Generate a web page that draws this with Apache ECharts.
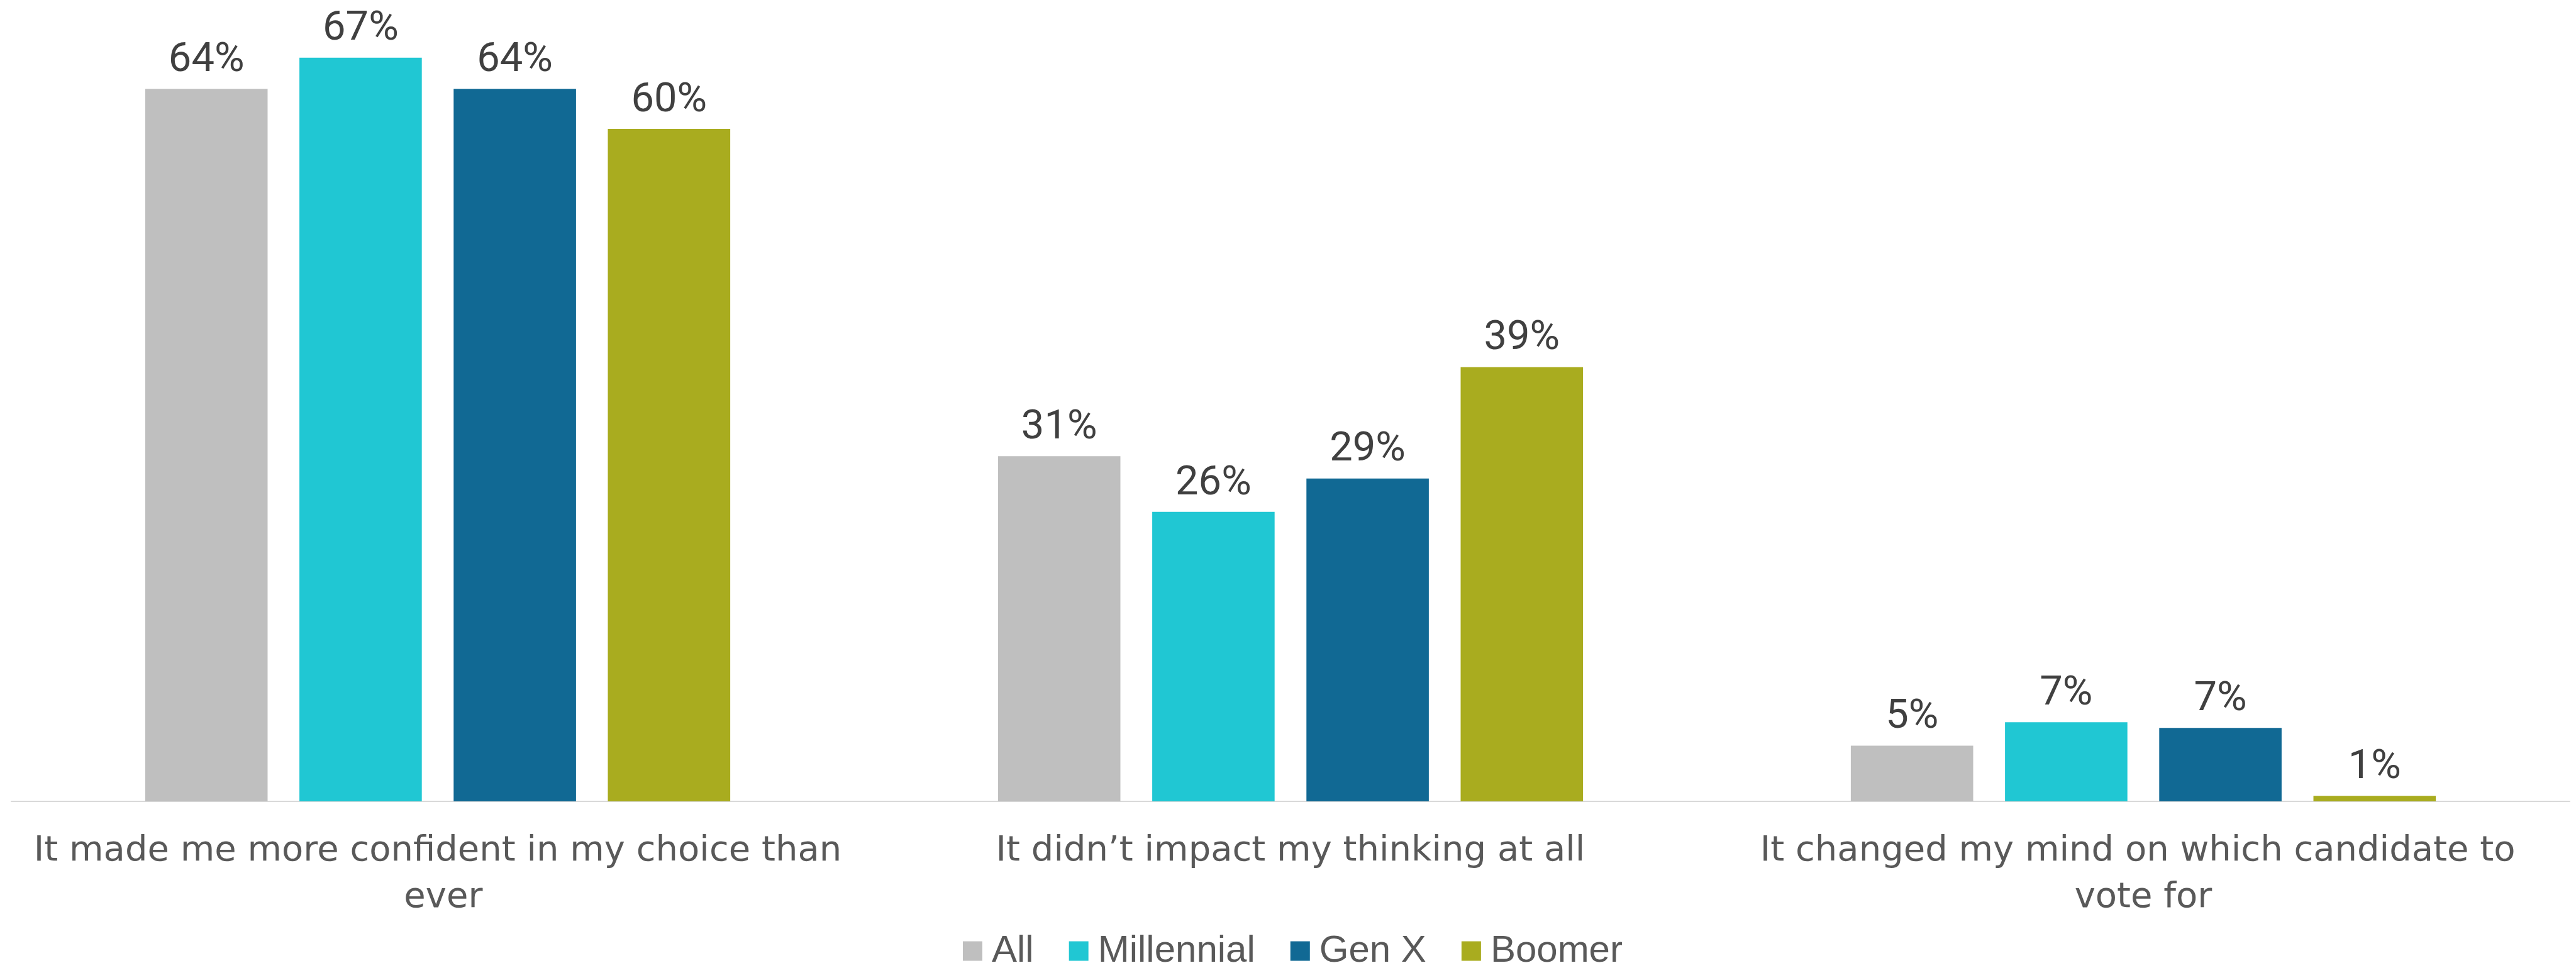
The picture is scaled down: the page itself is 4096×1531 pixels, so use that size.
<!DOCTYPE html>
<html>
<head>
<meta charset="utf-8">
<script src="https://cdn.jsdelivr.net/npm/echarts@6/dist/echarts.min.js"></script>
<style>
html,body{margin:0;padding:0;background:#fff;}
#chart{width:4096px;height:1531px;}
</style>
</head>
<body>
<div id="chart"></div>
<script>
var categories = [
  "It made me more confident in my choice than ever",
  "It didn\u2019t impact my thinking at all",
  "It changed my mind on which candidate to vote for"
];
var seriesNames = ["All", "Millennial", "Gen X", "Boomer"];
var allValues = [64, 31, 5];
var millennialValues = [66.8, 26, 7.1];
var genXValues = [64, 29, 6.6];
var boomerValues = [60.4, 39, 0.5];
var colors = ["#BFBFBF", "#20C7D3", "#116994", "#A9AC1F"];

var seriesData = [allValues, millennialValues, genXValues, boomerValues];

var chart = echarts.init(document.getElementById('chart'), null, {renderer: 'canvas'});

var series = seriesNames.map(function (name, i) {
  return {
    name: name,
    type: 'bar',
    data: seriesData[i],
    barGap: '26%',
    barCategoryGap: '31.4%',
    itemStyle: {color: colors[i]},
    label: {
      show: true,
      position: 'top',
      distance: 12,
      color: '#404040',
      fontFamily: 'Roboto',
      fontSize: 65,
      formatter: function (p) { return Math.round(p.value) + '%'; }
    }
  };
});

chart.setOption({
  animation: false,
  backgroundColor: '#ffffff',
  grid: {left: 18, right: 10, top: 35, bottom: 257, containLabel: false},
  legend: {
    data: seriesNames,
    left: 1526,
    top: 1477,
    itemWidth: 31,
    itemHeight: 31,
    itemGap: 56,
    icon: 'rect',
    textStyle: {
      color: '#595959',
      fontFamily: 'Liberation Sans',
      fontSize: 60,
      padding: [0, 0, 0, 10]
    }
  },
  xAxis: {
    type: 'category',
    data: categories,
    axisLine: {show: true, lineStyle: {color: '#D9D9D9', width: 2}},
    axisTick: {show: false},
    axisLabel: {
      interval: 0,
      color: '#595959',
      fontFamily: 'DejaVu Sans',
      fontSize: 56,
      lineHeight: 74,
      margin: 42,
      width: 1300,
      overflow: 'break'
    }
  },
  yAxis: {
    type: 'value',
    min: 0,
    max: 70,
    show: false,
    splitLine: {show: false}
  },
  series: series
});
</script>
</body>
</html>
